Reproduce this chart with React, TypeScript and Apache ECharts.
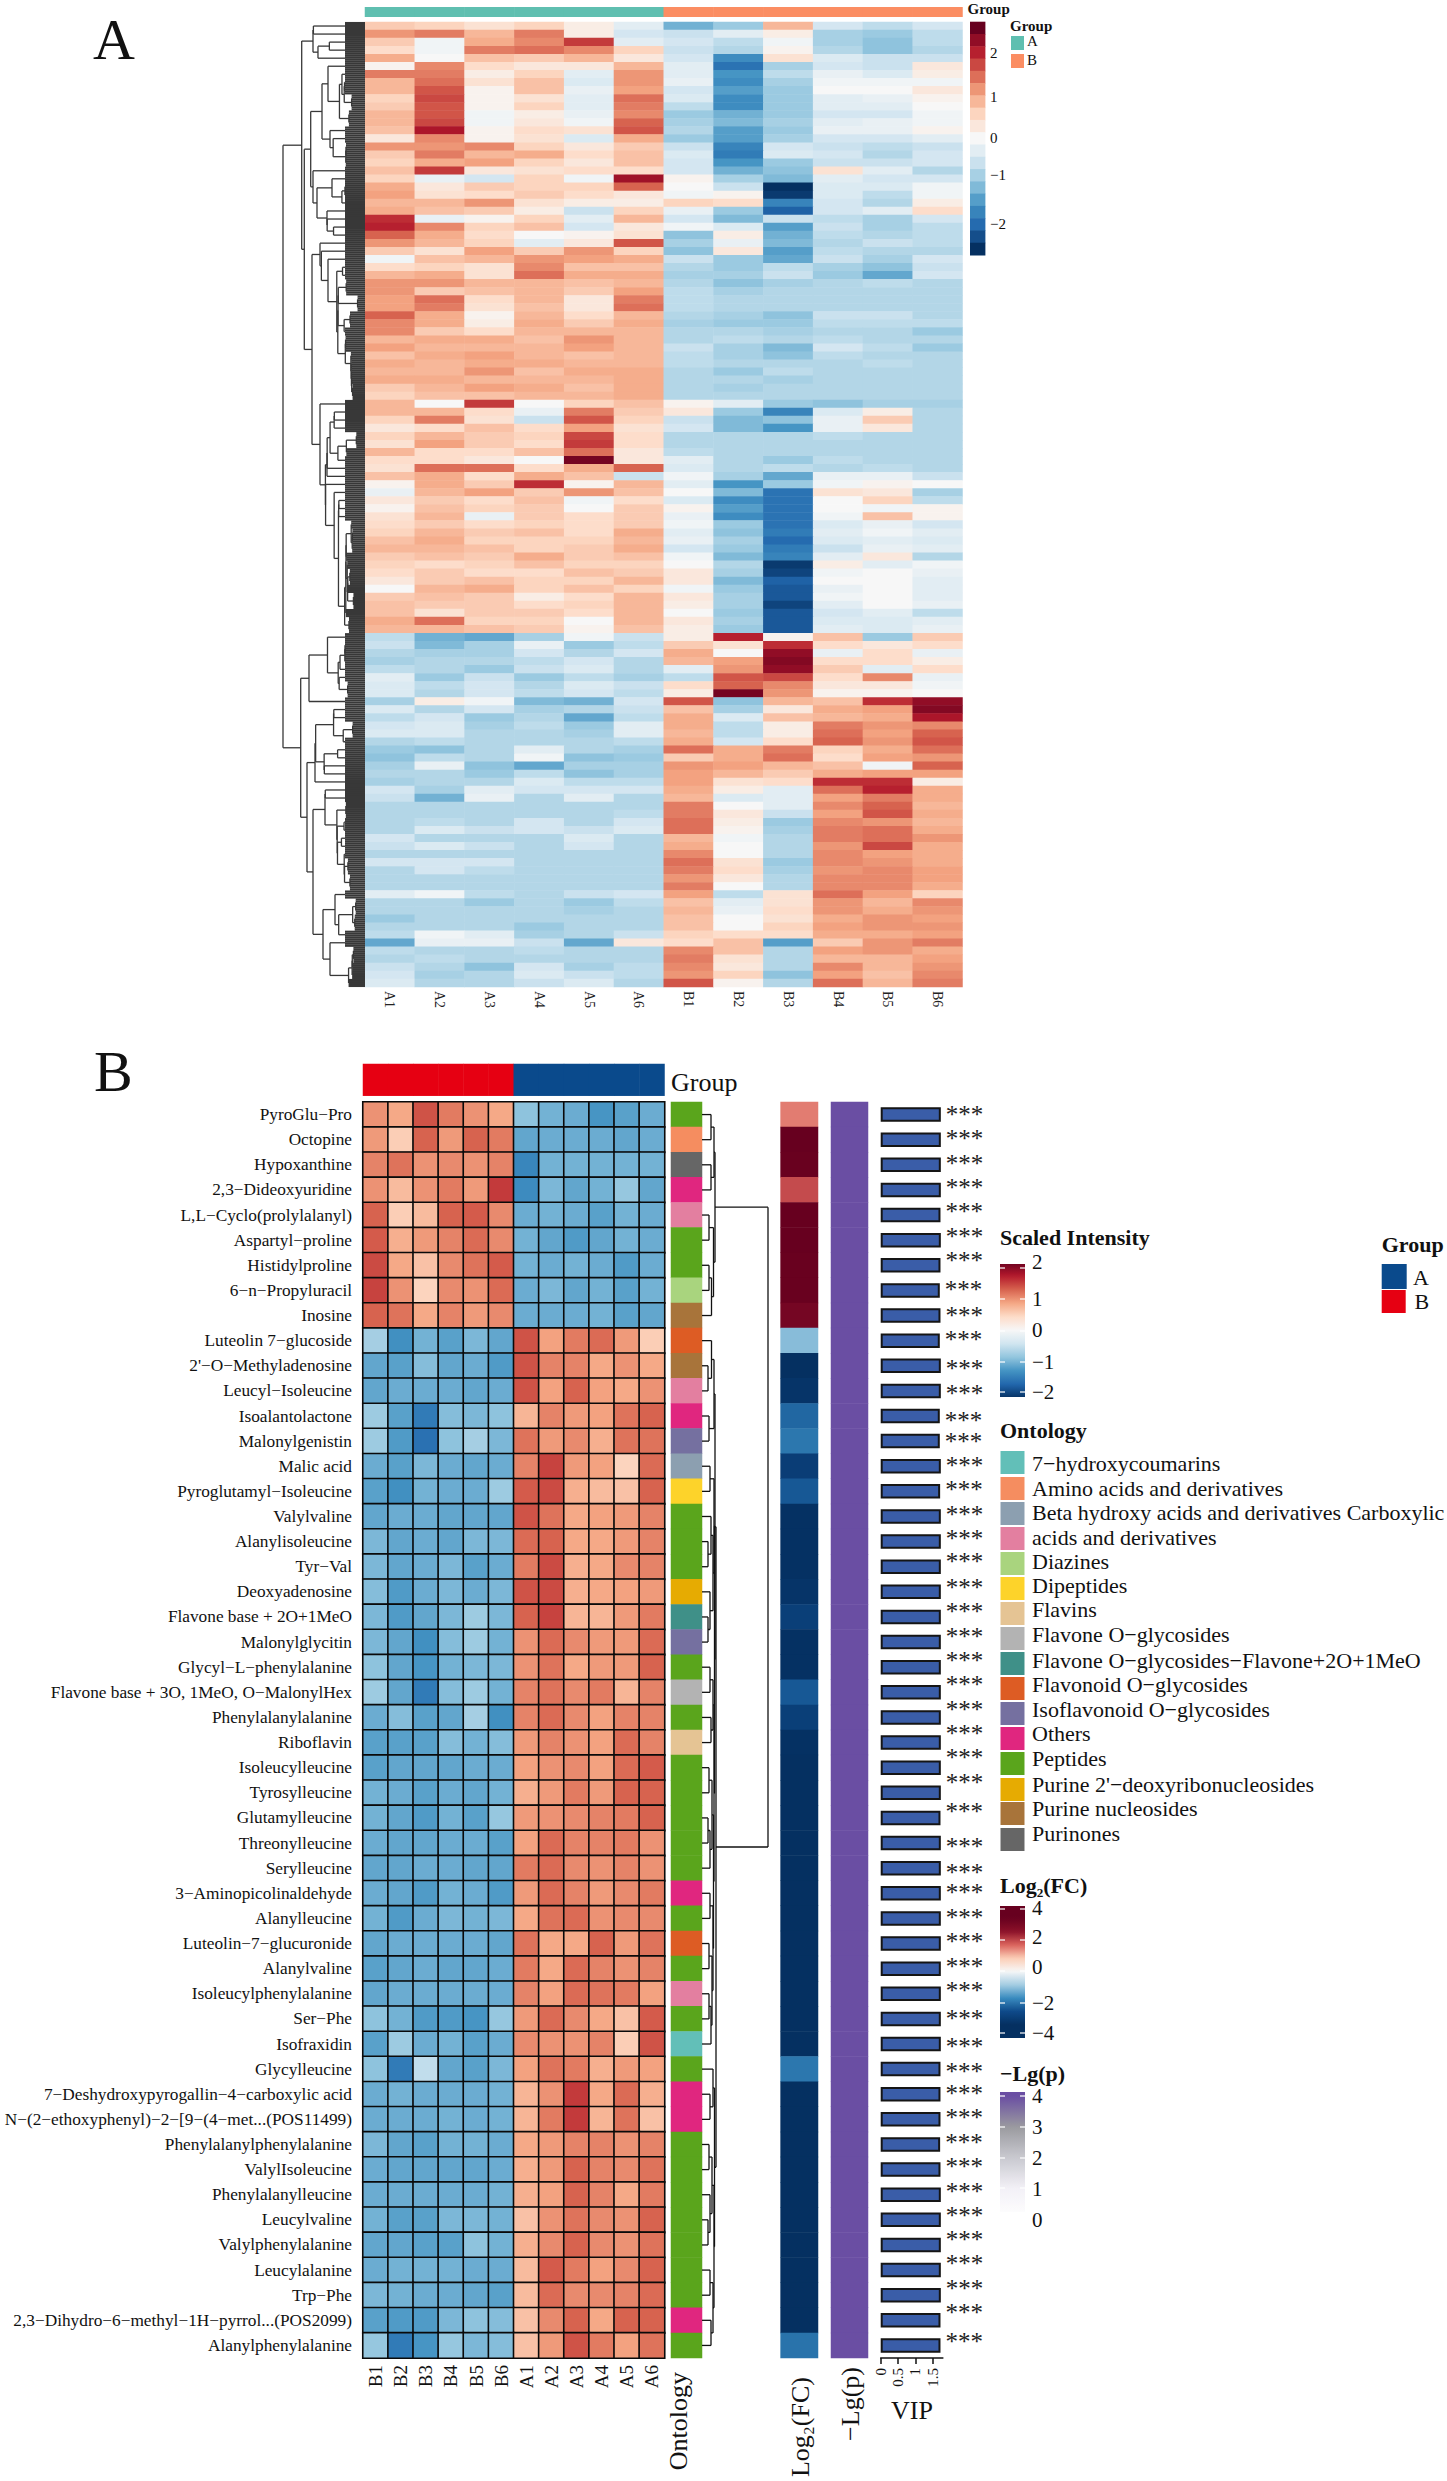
import React, { useEffect, useRef } from "react";
import * as echarts from "echarts";

const FONT = '"Liberation Serif"';

const sampleNamesA = ["A1","A2","A3","A4","A5","A6","B1","B2","B3","B4","B5","B6"];
const sampleNamesB = ["B1","B2","B3","B4","B5","B6","A1","A2","A3","A4","A5","A6"];
const rdbu = ["#053061","#2166ac","#4393c3","#92c5de","#d1e5f0","#f7f7f7","#fddbc7","#f4a582","#d6604d","#b2182b","#67001f"];

// Panel A, values read row band by row band, top to bottom; columns A1..A6, B1..B6
const heatTopA = [
[.7,.6,.4,.6,.2,-.3,-1.3,-1,.9,-.5,-.7,-.5],[1.2,1.4,.9,1.4,.2,-.5,-.6,-.3,.2,-.9,-1,-.7],
[.7,-.1,1,1.3,1.9,-.3,-.5,-.7,-.1,-.9,-1.1,-.7],[.5,-.1,1.4,1.5,1.3,.6,-.6,-.8,.1,-.8,-1.1,-.8],
[1,0,.8,.7,.9,.3,-.5,-1.7,.4,-.4,-.6,-.6],[.1,1.3,.5,.3,.3,.9,-.3,-2,-.9,-.5,-.6,.3],
[1.4,1.4,.2,.6,-.3,1.2,-.3,-1.6,-.7,-.2,-.4,.2],[.9,1.5,.4,.8,-.4,1.2,-.2,-1.7,-.9,-.1,-.1,-.1],
[.9,1.7,.1,.8,-.2,1.1,-.5,-1.5,-1,0,0,.3],[.6,1.8,.1,.4,-.3,1.5,-.4,-1.7,-1,-.3,-.2,.1],
[.7,1.7,.1,.6,-.3,1.4,-.7,-1.7,-1,-.3,-.3,0],[.9,1.7,-.1,.2,-.2,1.3,-1,-1.3,-1,-.5,-.5,-.1],
[.9,1.8,-.1,.3,-.1,1.6,-.9,-1.2,-.9,-.3,-.2,-.1],[.8,2.2,.1,.5,.4,1.7,-.8,-1.5,-1,-.2,-.2,.1],
[.3,1.3,.1,.4,-.4,1,-1,-1.5,-.9,-.5,-.5,-.3],[1.2,1.2,1.3,.6,.3,.7,-.6,-1.8,-.5,-.6,-.7,-.6],
[.7,1.4,.9,1,.5,.8,-.4,-1.9,-.4,-.5,-.8,-.5],[.6,1,1.1,.6,.3,.8,-.5,-1.6,-1,-.6,-.6,-.5],
[.8,1.9,.3,.4,.5,.5,-.5,-1.3,-1.1,.4,-.3,-.8],[.6,-.2,-.5,.6,-.1,2.3,.1,-.9,-1.2,-.3,-.5,-.5],
[1,.3,.7,.6,.6,1.6,0,-.6,-2.7,-.4,-.4,-.1],[1.1,.4,.5,.7,.5,.3,-.1,.1,-2.6,-.4,-.7,-.1],
[.9,.9,1.2,.4,.2,.2,.6,.5,-1.8,-.5,-.8,.2],[1,.8,.7,.2,-.6,.6,-.2,-1,-2.2,-.5,-.3,.5],
[2,-.2,.1,.6,-.3,.9,-.5,-1.2,-.6,-.7,-.9,-.5],[2.1,1.3,.6,.8,-.5,.3,-.1,-.4,-1.5,-.6,-.9,-.7],
];
const heatMidA = [
[1.6,1,.5,0,.1,.4,-1.1,.2,-1.3,-.7,-.8,-.7],[1.2,.9,.6,-.3,.3,1.7,-.9,-.2,-1.2,-.8,-.6,-.7],
[.7,.4,1.1,.7,1.2,.6,-1.1,.3,-1.5,-.7,-.8,-.8],[-.1,.8,.9,1.2,1.1,1,-.6,-1,-1.4,-.6,-.9,-.5],
[.5,.6,.4,1.3,.8,.8,-.8,-1,-.7,-.9,-1.1,-.6],[.9,1,.4,1.5,1,1,-.9,-.9,-.6,-1,-1.4,-.5],
[1.2,1.2,.9,.9,.8,.9,-.8,-1.1,-.9,-.8,-.7,-.8],[1.2,.7,.8,.9,.7,1.1,-.7,-.9,-.8,-.8,-.8,-.8],
[1.1,1.5,.5,.9,.3,1.4,-.7,-.8,-.8,-.8,-.8,-.8],[1.1,1.4,.4,.8,.3,1.5,-.7,-.8,-.8,-.8,-.8,-.8],
[1.6,1,.1,.9,.5,.9,-.8,-.9,-1.1,-.6,-.6,-.8],[1.3,1,.2,1,.7,1,-.9,-1,-1,-.7,-.7,-.7],
[1.3,.7,.5,.9,.9,.9,-.8,-.8,-.9,-.8,-.8,-1],[.9,1,1,.8,1.2,.9,-.8,-.7,-.8,-.7,-.8,-.8],
[1.1,.9,.9,.9,1.1,.9,-.6,-.9,-1.2,-.5,-.7,-1],[.8,1,1.1,.9,.8,.9,-.7,-.9,-1.1,-.7,-.8,-.8],
[1,.9,1,1,.9,.9,-.7,-.8,-.8,-.8,-.7,-.8],[.9,.9,1.2,.8,1,1,-.8,-1,-.7,-.8,-.8,-.8],
[1,1,.9,.9,.9,1,-.8,-.8,-.9,-.8,-.8,-.8],[.7,.9,1.1,1,.8,1,-.8,-.9,-.8,-.8,-.8,-.8],
[.6,.8,.8,.9,.9,1,-.8,-.8,-.8,-.8,-.8,-.8],
];
const heatLowA = [
[.9,0,1.9,0,.6,.8,.1,-.3,-1,-1.1,-.9,-.9],[.9,.9,.5,-.2,1.4,.7,.3,-1,-1.8,-.4,.2,-.8],
[.6,1.4,.4,-.6,1.7,.6,-.6,-1.2,-1.1,-.2,.7,-.8],[.3,.5,.8,.5,1.1,.4,-.5,-1.2,-1.6,-.2,.3,-.8],
[.6,.9,.7,.6,1.8,.5,-.8,-.8,-.8,-.7,-.8,-.8],[.4,1.1,.7,.5,1.9,.5,-.8,-.8,-.8,-.8,-.8,-.8],
[.9,.5,.5,.8,1.5,.3,-.7,-.8,-.8,-.8,-.8,-.8],[.5,.5,.3,0,2.6,.3,-.3,-.8,-1,-.7,-.8,-.8],
[.4,1.5,1.5,.5,1,1.6,-.4,-.8,-.7,-.8,-.7,-.8],[.8,1,.5,1,.8,-.6,-.1,-.9,-1.4,-.2,-.2,-.6],
[.1,1,.7,2,.1,.9,-.3,-1.6,-1,-.1,.1,0],[-.2,.9,1.1,.7,1.2,.8,0,-1.2,-2,.4,.3,-.9],
[.3,.7,.5,.8,-.1,.5,-.4,-1.7,-2,0,.6,-.7],[.1,.8,.6,.7,0,.7,.1,-1.5,-2,0,-.1,.1],
[.4,.9,-.2,.7,.5,.7,-.2,-1.7,-2,-.1,.8,.1],[.5,.7,.5,.6,.5,.7,-.1,-1,-2,-.4,-.2,-.5],
[.6,.9,.7,.8,.5,1,-.3,-1.1,-1.9,-.3,-.1,-.3],[.8,1,.6,.6,.6,.9,-.2,-.9,-2.1,-.4,-.3,-.4],
[.9,.9,.8,.6,.7,1,-.5,-1,-1.9,-.6,-.2,-.3],[.7,.8,.7,1,.7,.8,-.1,-1.2,-1.8,-.3,.3,-.8],
[.6,.5,.6,.8,.6,.6,0,-.8,-2.6,.2,-.3,-.1],[.5,.7,.5,.5,.8,.7,.3,-.9,-2.5,-.1,0,-.2],
[.3,.7,.8,.6,.6,.9,.3,-1.2,-2.2,0,0,-.3],[0,.9,1,.6,.8,.6,-.1,-1,-2.3,-.2,0,-.3],
[.7,.8,.7,.2,.5,.9,.3,-.9,-2.3,-.1,0,-.3],[.8,.7,.7,.5,.6,.9,.2,-.9,-2.5,-.3,0,-.2],
[.8,.4,.7,.7,.5,.9,0,-1,-2.3,-.5,-.3,-.7],[1,1.5,.6,.6,0,.9,.3,-.9,-2.3,-.4,-.4,-.3],
[.9,.9,.8,.7,.1,.8,.2,-1,-2.3,-.3,-.4,-.2],
];
const heatSplitA = [
[-.7,-1.3,-1.4,-.9,-.1,-.6,.2,2.1,.1,.8,-1,.7],[-.6,-1.2,-.9,-.2,-1,-.7,.7,.4,2,.5,.3,.5],
[-.8,-.9,-.9,-.5,-.8,-.5,1,0,2.4,-.2,.5,-.2],[-.9,-.8,-.8,-.7,-.5,-.8,.9,1.1,2.5,.5,.5,.2],
[-.7,-.8,-1,-.6,-.4,-.8,-.3,1.2,2.4,.7,-.3,.5],[-.3,-1,-.6,-1,-.7,-.9,-.7,1.7,1.8,.5,1.3,-.2],
[-.4,-.7,-.5,-.8,-.4,-.6,.5,1.6,1.3,.3,.3,-.1],[-.4,-.8,-.5,-.7,-.5,-.7,.2,2.6,1.2,.1,.1,0],
];
const heatBottomA = [
[-.9,.2,-.1,-1.2,-1.3,-.5,1.7,-1.1,.9,.8,2,2.4],[-.4,-.8,-.5,-.9,-.8,-.6,.8,-.9,.3,1,1.1,2.5],
[-.7,-.5,-1,-.8,-1.4,-.7,1,-.4,.8,.9,1,2.2],[-.5,-.4,-.9,-.7,-1,-.3,1,-.7,.2,1.4,1.2,1.3],
[-.4,-.4,-.8,-.8,-.9,-.3,.9,-.7,.2,1.5,1.1,1.6],[-.8,-.7,-.8,-.8,-.8,-.7,1,-.5,.5,1.6,1.2,1.7],
[-1,-1.1,-.8,-.3,-.8,-.9,1.5,1,1.4,.6,1,1.5],[-1.1,-.7,-.8,-.1,-1.1,-1,.7,1,1.5,.5,1.1,1.2],
[-.9,-.2,-1.1,-1.4,-.9,-.9,1.2,1.1,.9,.8,-.1,1.6],[-.8,-.8,-1,-.7,-1.1,-.9,1.1,.9,.7,1,1.1,1.1],
[-.9,-.8,-.8,-.4,-.7,-.7,1.1,.4,.5,2,2,.2],[-.5,-.9,-.3,-.5,-.5,-.5,1,.2,-.3,1.5,2.1,1],
[-.6,-1.3,-.2,-.8,-.3,-.8,.9,-.4,-.3,1.1,1.4,1],[-.8,-.8,-.8,-.8,-.8,-.8,1.4,0,-.3,1.3,1.6,.9],
[-.8,-.8,-.8,-.8,-.8,-.7,1.4,.3,-.6,1.1,1.7,1],[-.8,-.7,-.8,-.5,-.8,-.5,1.5,.2,-1,1.3,1.2,.9],
[-.8,-.4,-.6,-.5,-.6,-.4,1.5,.1,-.9,1.4,1.5,1],[-.5,-.8,-.8,-.8,-.4,-.8,.9,-.1,-.8,1.4,1.5,1.2],
[-.6,-.4,-.6,-.8,-.5,-.8,1,0,-.8,1.2,1.8,1],[-.8,-.8,-.8,-.8,-.8,-.8,1.3,0,-.8,1.3,1.1,1],
[-.5,-.5,-.5,-.8,-.8,-.8,1.5,.4,-1,1.3,1.2,1],[-.8,-.5,-.7,-.8,-.8,-.8,1.4,.5,-.9,1.2,1.3,1.1],
[-.8,-.8,-.8,-.8,-.8,-.8,1.2,.3,-.8,1.3,1.3,1.1],[-.8,-.8,-.8,-.8,-.8,-.8,1.4,0,-.8,1.3,1.3,1],
[-.3,-.1,-.7,-.8,-.6,-.5,1.1,-.7,.4,1.5,1.1,.6],[-.8,-.8,-1,-.8,-1,-.7,.8,-.3,.4,1.2,.9,1.3],
[-.8,-.8,-.8,-.8,-.9,-.8,.9,-.2,.5,1.2,1,1.2],[-1,-.8,-.8,-.8,-.8,-.8,.8,0,.4,1,1.2,1.1],
[-.8,-.8,-.8,-1,-.8,-.8,.8,0,.6,1.1,1.2,1.2],[-.7,-.1,-.3,-.9,-.8,-.6,.6,.5,.5,1,1,1.1],
[-1.4,-.2,-.2,-.6,-1.4,.3,.5,.8,-1.5,.7,1.2,1.4],[-.7,-.8,-.8,-.7,-.8,-.8,1.3,.8,-.8,1.1,1.2,1],
[-.8,-.7,-.8,-.8,-.8,-.8,1.4,.4,-.8,.9,.9,1.1],[-.6,-.8,-1.1,-.5,-.9,-.7,1.3,.3,-.8,1.3,.9,1.2],
[-.5,-.9,-.8,-.4,-.6,-.7,1.2,.6,-1.1,1.1,.8,1.3],[-.4,-.8,-.8,-.6,-.4,-.8,1.7,.1,-.8,1.5,.9,1.4],
];
const rowsA = [...heatTopA, ...heatMidA, ...heatLowA, ...heatSplitA, ...heatBottomA];

// upper levels of the row dendrogram of panel A: node(height, left, right), span(firstRow, lastRow, height)
const node = (h: number, l: any, r: any) => ({ h, l, r });
const span = (from: number, to: number, h: number) => ({ from, to, h });
const treeUpperA = node(63.3, span(0, 4, 52),
  node(60.7,
    node(54.3,
      node(43, span(5, 12, 37), span(13, 17, 35)),
      node(52, span(18, 18, 0), node(48, span(19, 22, 33), span(23, 26, 38)))),
    node(53, span(27, 46, 45), span(47, 75, 45))));
const treeLowerA = node(64.3, span(76, 84, 56),
  node(58, span(85, 94, 50),
    node(52, span(95, 107, 40),
      node(42, span(108, 113, 30), span(114, 119, 35)))));
const treeA = node(82, treeUpperA, treeLowerA);

// Panel B
const metabolites = ["PyroGlu−Pro","Octopine","Hypoxanthine","2,3−Dideoxyuridine","L,L−Cyclo(prolylalanyl)","Aspartyl−proline","Histidylproline","6−n−Propyluracil","Inosine","Luteolin 7−glucoside","2'−O−Methyladenosine","Leucyl−Isoleucine","Isoalantolactone","Malonylgenistin","Malic acid","Pyroglutamyl−Isoleucine","Valylvaline","Alanylisoleucine","Tyr−Val","Deoxyadenosine","Flavone base + 2O+1MeO","Malonylglycitin","Glycyl−L−phenylalanine","Flavone base + 3O, 1MeO, O−MalonylHex","Phenylalanylalanine","Riboflavin","Isoleucylleucine","Tyrosylleucine","Glutamylleucine","Threonylleucine","Serylleucine","3−Aminopicolinaldehyde","Alanylleucine","Luteolin−7−glucuronide","Alanylvaline","Isoleucylphenylalanine","Ser−Phe","Isofraxidin","Glycylleucine","7−Deshydroxypyrogallin−4−carboxylic acid","N−(2−ethoxyphenyl)−2−[9−(4−met...(POS11499)","Phenylalanylphenylalanine","ValylIsoleucine","Phenylalanylleucine","Leucylvaline","Valylphenylalanine","Leucylalanine","Trp−Phe","2,3−Dihydro−6−methyl−1H−pyrrol...(POS2099)","Alanylphenylalanine"];
const scaledIntensity = [
[1,.85,1.4,1.15,1,.85,-.9,-1.05,-1.1,-1.3,-1.2,-1.1],[.95,.55,1.3,.95,1.3,1.15,-1.15,-1.1,-1.1,-1.1,-1.15,-1.1],
[1.1,1.2,1,1.05,1,1.1,-1.45,-1.05,-1.05,-1.05,-1.05,-1.05],[1,.7,1,1.15,.95,1.55,-1.4,-1,-1.15,-1.05,-.85,-1.15],
[1.3,.55,.7,1.3,1.35,1.05,-1.1,-1.05,-1.1,-1.2,-1.05,-1.1],[1.35,.8,.95,1.1,1.25,1.05,-1.05,-1.15,-1.25,-1.15,-1.05,-1.1],
[1.45,.85,.65,1.05,1.2,1.35,-1.05,-1.1,-1.05,-1.1,-1.25,-1.1],[1.5,1,.5,1.05,1,1.25,-1.1,-1,-1.15,-1.05,-1.2,-1.05],
[1.3,1.2,.85,1.1,.95,1.05,-1.1,-1.1,-1.1,-1.05,-1.2,-1.15],[-.75,-1.35,-1.05,-1.2,-1,-1.15,1.4,.9,1.15,1.25,.95,.55],
[-1.15,-1.2,-.95,-1.15,-1.1,-1.25,1.4,1.1,1.1,.85,1,.85],[-1.15,-1.1,-1.1,-1.1,-1.15,-1.1,1.4,.9,1.3,.9,.85,1],
[-.8,-1.2,-1.55,-.95,-1,-.9,.75,1.1,.95,.9,1.2,1.3],[-.8,-1.25,-1.65,-.9,-.75,-1,1.2,.95,1.05,.8,1.2,1.2],
[-1.1,-1.2,-1,-1.1,-1.15,-1.1,1.1,1.5,.95,.9,.5,1.25],[-1.2,-1.35,-1.05,-1.1,-1.1,-.8,1.35,1.45,.8,.7,.65,1.3],
[-1.15,-1.1,-1.1,-1.15,-1.15,-1.15,1.4,1.2,.85,.9,.95,1.1],[-1,-1.15,-1.1,-1.15,-1,-1,1.25,1.3,.85,.85,.95,1.1],
[-1,-1.15,-1.1,-1,-1.2,-1.1,1.15,1.45,.8,.85,1.05,1.1],[-.95,-1.25,-1.1,-1,-1.1,-1,1.4,1.45,.8,.85,.9,.95],
[-1,-1.25,-1.15,-1,-.8,-1,1.3,1.5,.75,.75,.95,1.15],[-1,-1.15,-1.35,-.95,-.8,-1.05,1,1.25,1.05,.95,.95,1.25],
[-.9,-1.15,-1.3,-1.05,-1,-1,1,1.2,.85,.95,.95,1.3],[-.8,-1.15,-1.55,-.95,-.8,-1.05,1.1,1.2,1.05,1.15,.75,1.1],
[-1.1,-.95,-1.2,-1.15,-.75,-1.35,1.1,1.25,1.05,.9,1.1,1.1],[-1.2,-1.2,-1.2,-.95,-1.05,-.95,.95,1.1,1,.9,1.25,1.1],
[-1.2,-1.15,-1.15,-1.15,-1.1,-1.1,.9,1,1.05,.9,1.25,1.35],[-1.05,-1.1,-1.2,-1.1,-1.15,-1.05,.8,.95,1.15,.95,1.3,1.3],
[-1.05,-1.15,-1.25,-1.05,-1.2,-.85,.95,1,1.05,1.1,1.15,1.3],[-1.1,-1.15,-1.15,-1.1,-1.1,-1.2,.9,1.25,1.1,1.1,1.15,1],
[-1.15,-1.15,-1.1,-1.1,-1.15,-1.15,1.15,1.25,1.05,1,1.1,1],[-1.1,-1.15,-1.25,-1.05,-1.1,-1.25,.95,1.25,1.1,.95,1.05,1.15],
[-1.05,-1.25,-1.1,-1,-1.05,-1,.85,1.2,1.25,1,1.05,1.05],[-1.15,-1.1,-1.1,-1.1,-1.1,-1.15,1.2,.85,.85,1.3,.95,1.2],
[-1.2,-1.15,-1.1,-1.15,-1.15,-1.1,1.15,.85,1.25,1.1,1,1.1],[-1.15,-1.1,-1.1,-1.1,-1.1,-1.1,1.1,.9,1.25,1.2,1.15,.9],
[-.9,-1.05,-1.25,-1.25,-1.3,-.85,.95,1.25,1.05,.85,.65,1.35],[-1.2,-.8,-1.1,-1.05,-1.2,-1.1,1.05,1,1,1.1,.55,1.4],
[-.9,-1.55,-.55,-1.15,-1.2,-1,.9,1.2,1.15,.8,.95,.9],[-1.1,-1.05,-1.1,-1.1,-1.1,-1.05,.75,1,1.55,.85,1.25,.8],
[-1.1,-1.1,-1.1,-1.05,-1.1,-1.05,.75,1.15,1.55,.75,1.2,.65],[-1,-1.15,-1.2,-1.05,-1.05,-1.1,.85,.95,1.1,1.1,1,1.1],
[-1.1,-1.15,-1.15,-1.15,-1.15,-1.1,.8,.95,1.3,1.1,1.05,1.2],[-1.1,-1.1,-1.1,-1.1,-1.1,-1.05,.8,.9,1.3,1.1,.85,1.15],
[-1.05,-1.2,-1.2,-1,-1,-1.05,.65,1,1.2,1.05,1,1.3],[-1.15,-1.15,-1.2,-1.2,-.9,-1.05,.8,1.05,1.3,1.05,1,1.2],
[-1.1,-1.05,-1.05,-1.05,-1.1,-1.1,.7,1.35,1.15,.9,1.05,1.3],[-1,-1.05,-1.1,-1.1,-1.15,-1.2,.7,1.25,1.05,1.05,1.1,1.25],
[-1.2,-1.25,-1.25,-1,-.9,-.95,.65,1.05,1.3,.85,1.3,1.3],[-.85,-1.55,-1.3,-.85,-1,-.95,.65,.95,1.4,1.15,.9,1.2],
];
const ontologyNames = ["7−hydroxycoumarins","Amino acids and derivatives","Beta hydroxy acids and derivatives Carboxylic","acids and derivatives","Diazines","Dipeptides","Flavins","Flavone O−glycosides","Flavone O−glycosides−Flavone+2O+1MeO","Flavonoid O−glycosides","Isoflavonoid O−glycosides","Others","Peptides","Purine 2'−deoxyribonucleosides","Purine nucleosides","Purinones"];
const ontologyColors = ["#62bfb8","#f58d60","#8c9fb0","#e37fa0","#a9d47e","#fdd32a","#e5c494","#b3b3b3","#3f9088","#dd5c24","#7570a0","#e0267f","#5aa51c","#e6ab02","#a8743a","#666666"];
// index into ontologyNames for each metabolite
const ontologyOfRow = [12,1,15,11,3,12,12,4,14,9,14,3,11,10,2,5,12,12,12,13,8,10,12,7,12,6,12,12,12,12,12,11,12,9,12,3,12,0,12,11,11,12,12,12,12,12,12,12,11,12];
const log2FC = [1.5,3.6,3.4,1.95,3.6,3.5,3.4,3.4,3.1,-1.1,-3.6,-3.3,-2.2,-2,-3,-2.4,-3.4,-3.4,-3.4,-3.3,-2.95,-3.4,-3.4,-2.4,-2.95,-3.4,-3.5,-3.5,-3.5,-3.5,-3.5,-3.5,-3.5,-3.5,-3.5,-3.5,-3.5,-3.5,-2,-3.5,-3.5,-3.5,-3.5,-3.5,-3.5,-3.5,-3.5,-3.5,-3.5,-2.05];
const minusLgP = [4,4,4,4,4,4,4,4,4,4,4,4,4,4,4,4,4,4,4,4,4,4,4,4,4,4,4,4,4,4,4,4,4,4,4,4,4,4,4,4,4,4,4,4,4,4,4,4,4,4];
const vip = [1.74,1.74,1.74,1.74,1.73,1.74,1.73,1.71,1.73,1.71,1.74,1.74,1.71,1.71,1.74,1.72,1.74,1.74,1.74,1.74,1.74,1.74,1.74,1.74,1.74,1.74,1.74,1.74,1.73,1.74,1.74,1.74,1.74,1.74,1.74,1.74,1.74,1.74,1.73,1.73,1.73,1.72,1.73,1.74,1.74,1.74,1.74,1.74,1.73,1.73];
// vertical nudges of the *** marks, as drawn in the figure
const starNudge = [0,-1,-1.5,-2.4,-3.5,-3.6,-4.7,-.8,0,-1,2.8,2.7,4.6,0,-1,-1.8,-2.2,-3,-5.5,-4.6,-5.4,-5.8,-6.6,-7.8,-8.2,-9.3,-10,-10.5,-6.7,3.2,4.4,-.7,-1,-2,-2.3,-3,0,2.6,2.5,-.6,-1.8,-2.2,-3,-3.3,-4.3,-5.3,-6.4,-6.5,-7.6,-3.8];

// dendrogram of panel B, [height, left, right]; leaves are row numbers
const treeTopB: any = [13,[12,[9,0,1],[9,2,3]],[11.5,[7,4,5],[9.5,[7,6,7],8]]];
const treeMidB: any = [13,[12,[9.5,9,[6,10,11]],[7,12,13]],
  [12.5,[12,[8,14,15],[11,[9,16,[6,17,18]],[8,19,[6,20,21]]]],[12,[11,[8,22,23],[9,24,25]],[11.5,[10,[7,26,27],[8,[6,28,29],30]],[11,[8,31,32],[10,[7,33,34],[9,[7,35,36],37]]]]]]];
const treeEndB: any = [12.5,[11,38,[8,39,40]],[12,[10,[7,41,42],[8,43,[6,44,45]]],[11,[8,46,47],[9,48,49]]]];
const treeB: any = [66,treeTopB,[14,treeMidB,treeEndB]];

const hex = (c: string) => [1, 3, 5].map((i) => parseInt(c.slice(i, i + 2), 16));
function ramp(colors: string[], t: number) {
  const p = Math.min(Math.max(t, 0), 1) * (colors.length - 1);
  const i = Math.min(Math.floor(p), colors.length - 2);
  const a = hex(colors[i]), b = hex(colors[i + 1]);
  const m = a.map((v, k) => Math.round(v + (b[k] - v) * (p - i)));
  return `rgb(${m[0]},${m[1]},${m[2]})`;
}

// lower levels inside each span are merged from the heat values themselves
type T = { x: number; y: number; leaf?: number; kids?: T[] };
function buildSpan(rows: number[][], from: number, to: number, top: number): T {
  if (from === to) return { x: 0, y: from + 0.5, leaf: from };
  type C = { y: number; d: number; n: number; m: number[]; leaf?: number; kids?: C[] };
  const cl: C[] = [];
  for (let i = from; i <= to; i++) cl.push({ y: i + 0.5, d: 0, n: 1, m: rows[i].slice(), leaf: i });
  const dist = (a: C, b: C) => Math.sqrt(a.m.reduce((s, v, k) => s + (v - b.m[k]) ** 2, 0));
  while (cl.length > 1) {
    let best = 0, bd = Infinity;
    for (let i = 0; i < cl.length - 1; i++) {
      const d = dist(cl[i], cl[i + 1]);
      if (d < bd) { bd = d; best = i; }
    }
    const a = cl[best], b = cl[best + 1], n = a.n + b.n;
    cl.splice(best, 2, { y: (a.y + b.y) / 2, d: Math.max(bd, a.d, b.d) + 0.01, n, m: a.m.map((v, k) => (v * a.n + b.m[k] * b.n) / n), kids: [a, b] });
  }
  const dmax = cl[0].d;
  const conv = (c: C): T => c.leaf !== undefined ? { x: 0, y: c.y, leaf: c.leaf } : { x: top * Math.pow(c.d / dmax, 0.85), y: c.y, kids: c.kids!.map(conv) };
  return conv(cl[0]);
}
function buildA(n: any): T {
  if (n.from !== undefined) return buildSpan(rowsA, n.from, n.to, n.h);
  const l = buildA(n.l), r = buildA(n.r);
  return { x: n.h, y: (l.y + r.y) / 2, kids: [l, r] };
}
function dendroA(tree: any) {
  const segs: number[][] = [];
  const walk = (c: T) => {
    if (!c.kids) return;
    segs.push([c.x, c.kids[0].y, c.x, c.kids[1].y, 1.3]);
    for (const k of c.kids) {
      if (k.leaf !== undefined) {
        const comb = Math.max(Math.min(c.x, 20), 6);
        for (let s = 0; s < 4; s++) segs.push([comb, k.leaf + (s + 0.5) / 4, 0, k.leaf + (s + 0.5) / 4, 2.1]);
        if (c.x > comb) segs.push([c.x, k.y, comb, k.y, 1.3]);
      } else {
        segs.push([c.x, k.y, k.x, k.y, 1.3]);
        walk(k);
      }
    }
  };
  walk(buildA(tree));
  return segs;
}

function dendroB(tree: any) {
  const segs: number[][] = [];
  const walk = (t: any): [number, number] => {
    if (typeof t === "number") return [0, t + 0.5];
    const a = walk(t[1]), b = walk(t[2]);
    segs.push([t[0], a[1], t[0], b[1], 1.3], [t[0], a[1], a[0], a[1], 1.3], [t[0], b[1], b[0], b[1], 1.3]);
    return [t[0], (a[1] + b[1]) / 2];
  };
  walk(tree);
  return segs;
}

const blank = { show: false };
const hiddenCat = (data: any[], gridIndex: number, inverse = false) => ({ type: "category", data, gridIndex, inverse, axisLine: blank, axisTick: blank, axisLabel: blank, splitLine: blank });
const lineRender = (stroke: string) => (_: any, api: any) => {
  const a = api.coord([api.value(0), api.value(1)]);
  const b = api.coord([api.value(2), api.value(3)]);
  return { type: "line", shape: { x1: a[0], y1: a[1], x2: b[0], y2: b[1] }, style: { stroke, lineWidth: api.value(4) } };
};
const txt = (text: string, x: number, y: number, size: number, extra: any = {}, styleExtra: any = {}) => ({
  type: "text", x, y, silent: true, ...extra,
  style: { text, fontFamily: FONT, fontSize: size, fill: "#111", align: "left", verticalAlign: "middle", ...styleExtra },
});
const bold = { fontWeight: "bold" };

function colorBar(x: number, top: number, bottom: number, w: number, colors: string[], vTop: number, vBottom: number, vMin: number, vMax: number, ticks: number[][], labels: [string, number][]) {
  const stops = [];
  for (let i = 0; i <= 40; i++) {
    const v = vTop + ((vBottom - vTop) * i) / 40;
    stops.push({ offset: i / 40, color: ramp(colors, (v - vMin) / (vMax - vMin)) });
  }
  const out: any[] = [{ type: "rect", silent: true, shape: { x, y: top, width: w, height: bottom - top }, style: { fill: new echarts.graphic.LinearGradient(0, 0, 0, 1, stops) } }];
  for (const [y] of ticks) {
    out.push({ type: "line", silent: true, shape: { x1: x, y1: y, x2: x + 5, y2: y }, style: { stroke: "#fff", lineWidth: 1.2 } });
    out.push({ type: "line", silent: true, shape: { x1: x + w - 5, y1: y, x2: x + w, y2: y }, style: { stroke: "#fff", lineWidth: 1.2 } });
  }
  for (const [t, y] of labels) out.push(txt(t, 1032, y, 21));
  return out;
}

export default function App() {
  const ref = useRef<HTMLDivElement>(null);
  useEffect(() => {
    const chart = echarts.init(ref.current!, undefined, { renderer: "svg" });
    const grid = (left: number, right: number, top: number, bottom: number) => ({ left, top, width: right - left, height: bottom - top, containLabel: false });
    const Atop = 22, Abot = 987, Btop = 1102, Bbot = 2358;
    const rowIdxA = rowsA.map((_, i) => i);
    const heatA: number[][] = [];
    rowsA.forEach((r, y) => r.forEach((v, x) => heatA.push([x, y, v])));
    const heatB: number[][] = [];
    scaledIntensity.forEach((r, y) => r.forEach((v, x) => heatB.push([x, y, v])));

    const labelAxisA = { type: "category", data: sampleNamesA, gridIndex: 1, axisLine: blank, axisTick: blank, axisLabel: { rotate: -90, fontFamily: FONT, fontSize: 14, color: "#222", margin: 4, interval: 0 } };
    const labelAxisB = { type: "category", data: sampleNamesB, gridIndex: 4, axisLine: blank, axisTick: blank, axisLabel: { rotate: 90, fontFamily: FONT, fontSize: 19, color: "#111", margin: 7, interval: 0 } };

    const graphics: any[] = [
      txt("A", 93, 39, 58),
      txt("B", 94, 1071, 58),
      txt("Group", 967.5, 9, 15, {}, bold),
      txt("Group", 1010, 26, 15, {}, bold),
      { type: "rect", silent: true, shape: { x: 1011, y: 36, width: 13, height: 14 }, style: { fill: "#5fbfb0" } },
      { type: "rect", silent: true, shape: { x: 1011, y: 54, width: 13, height: 14 }, style: { fill: "#fb8d62" } },
      txt("A", 1027, 41, 15),
      txt("B", 1027, 60, 15),
      txt("2", 990, 53, 15), txt("1", 990, 97, 15), txt("0", 990, 138, 15), txt("−1", 990, 175, 15), txt("−2", 990, 224, 15),
      txt("Group", 671, 1082, 26),
      txt("Ontology", 678, 2372, 26, { rotation: Math.PI / 2 }, { align: "right" }),
      txt("Log₂(FC)", 800, 2377, 26, { rotation: Math.PI / 2 }, { align: "right" }),
      txt("−Lg(p)", 850.5, 2367, 26, { rotation: Math.PI / 2 }, { align: "right" }),
      txt("VIP", 912, 2410, 26, {}, { align: "center" }),
      txt("Scaled Intensity", 1000, 1237, 22, {}, bold),
      txt("Ontology", 1000, 1430, 22, {}, bold),
      txt("Log₂(FC)", 1000, 1885, 22, {}, bold),
      txt("−Lg(p)", 1000, 2073, 22, {}, bold),
      txt("Group", 1381.7, 1244, 22, {}, bold),
      { type: "rect", silent: true, shape: { x: 1381.7, y: 1264, width: 25, height: 25 }, style: { fill: "#0a4a8c" } },
      { type: "rect", silent: true, shape: { x: 1381.7, y: 1290, width: 24, height: 23 }, style: { fill: "#e60012" } },
      txt("A", 1413, 1277, 22),
      txt("B", 1414.5, 1301, 22),
    ];
    // discrete colour bar of panel A
    const bands = 19;
    for (let i = 0; i < bands; i++) {
      graphics.push({ type: "rect", silent: true, shape: { x: 970, y: 21.7 + (i * 233.3) / bands, width: 15.4, height: 233.3 / bands + 0.5 }, style: { fill: ramp(rdbu, 1 - i / (bands - 1)) } });
    }
    graphics.push(...colorBar(1000, 1264, 1397, 25, rdbu, 2.13, -2.16, -2.2, 2.2,
      [[1268], [1299], [1331], [1362], [1392]], [["2", 1262], ["1", 1299], ["0", 1330], ["−1", 1362], ["−2", 1392]]));
    const fcColors = ["#053061","#053061","#0e4a8a","#3a8cc0","#a6cee3","#f7f7f7","#fbccb4","#d9605a","#8a1028","#67001f","#67001f"];
    graphics.push(...colorBar(1000, 1906, 2038, 25, fcColors, 4.2, -4.3, -4.3, 4.3,
      [[1909], [1940], [1971], [2003], [2033]], [["4", 1908], ["2", 1937], ["0", 1967], ["−2", 2003], ["−4", 2033]]));
    const lgColors = ["#ffffff","#f3f1f7","#c9c9d0","#9a9a9f","#6a4ea3"];
    graphics.push(...colorBar(1000, 2092, 2212, 25, lgColors, 4.13, 0.25, 0, 4,
      [[2096], [2127], [2158], [2188]], [["4", 2096], ["3", 2127], ["2", 2158], ["1", 2189], ["0", 2220]]));
    // ontology legend
    const swatchTops = [1451,1477,1502,1527,1552,1577,1602,1627,1652,1677,1702,1727,1752,1778,1802,1828];
    const textYs = [1463,1488,1512,1537,1561,1585,1609,1634,1660,1684,1709,1733,1758,1784,1808,1833];
    ontologyNames.forEach((n, i) => {
      graphics.push({ type: "rect", silent: true, shape: { x: 1000.5, y: swatchTops[i], width: 24, height: 23 }, style: { fill: ontologyColors[i] } });
      graphics.push(txt(n, 1032, textYs[i], 22));
    });

    chart.setOption({
      animation: false,
      backgroundColor: "#fff",
      grid: [
        grid(365, 962.5, 7.3, 16.7), grid(365, 962.5, Atop, Abot), grid(283, 365, Atop, Abot),
        grid(363, 664.5, 1064, 1095.7), grid(363, 664.5, Btop, Bbot), grid(671, 702, Btop, Bbot), grid(702, 768, Btop, Bbot),
        grid(780.6, 818, Btop, Bbot), grid(831, 868, Btop, Bbot), grid(880.7, 942.9, Btop, Bbot),
      ],
      xAxis: [
        hiddenCat(sampleNamesA, 0), labelAxisA,
        { type: "value", gridIndex: 2, min: 0, max: 82, inverse: true, show: false },
        hiddenCat(sampleNamesB, 3), labelAxisB,
        hiddenCat(["Ontology"], 5),
        { type: "value", gridIndex: 6, min: 0, max: 66, show: false },
        hiddenCat(["Log2(FC)"], 7), hiddenCat(["-Lg(p)"], 8),
        { type: "value", gridIndex: 9, min: 0, max: 1.8, interval: 0.5, splitLine: blank,
          axisLine: { show: true, onZero: false, lineStyle: { color: "#111", width: 1.5 } },
          axisTick: { show: true, length: 6, lineStyle: { color: "#111", width: 1.5 } },
          axisLabel: { rotate: 90, fontFamily: FONT, fontSize: 15, color: "#111", margin: 10, showMaxLabel: false } },
      ],
      yAxis: [
        hiddenCat(["Group"], 0), hiddenCat(rowIdxA, 1, true),
        { type: "value", gridIndex: 2, min: 0, max: rowsA.length, inverse: true, show: false },
        hiddenCat(["Group"], 3),
        { type: "category", data: metabolites, gridIndex: 4, inverse: true, axisLine: blank, axisTick: blank,
          axisLabel: { fontFamily: FONT, fontSize: 17.3, color: "#111", margin: 11, interval: 0 } },
        hiddenCat(metabolites, 5, true),
        { type: "value", gridIndex: 6, min: 0, max: 50, inverse: true, show: false },
        hiddenCat(metabolites, 7, true), hiddenCat(metabolites, 8, true), hiddenCat(metabolites, 9, true),
      ],
      visualMap: [
        { type: "piecewise", show: false, dimension: 2, seriesIndex: 0, pieces: [{ value: 0, color: "#5fbfb0" }, { value: 1, color: "#fb8d62" }] },
        { type: "continuous", show: false, dimension: 2, seriesIndex: 1, min: -2.7, max: 2.7, inRange: { color: rdbu } },
        { type: "piecewise", show: false, dimension: 2, seriesIndex: 3, pieces: [{ value: 0, color: "#e60012" }, { value: 1, color: "#0a4a8c" }] },
        { type: "continuous", show: false, dimension: 2, seriesIndex: 4, min: -2.2, max: 2.2, inRange: { color: rdbu } },
        { type: "piecewise", show: false, dimension: 2, seriesIndex: 5, pieces: ontologyColors.map((color, value) => ({ value, color })) },
        { type: "continuous", show: false, dimension: 2, seriesIndex: 7, min: -4.3, max: 4.3, inRange: { color: fcColors } },
        { type: "continuous", show: false, dimension: 2, seriesIndex: 8, min: 0, max: 4, inRange: { color: lgColors } },
      ],
      series: [
        { type: "heatmap", xAxisIndex: 0, yAxisIndex: 0, data: sampleNamesA.map((_, i) => [i, 0, i < 6 ? 0 : 1]), progressive: 0 },
        { type: "heatmap", xAxisIndex: 1, yAxisIndex: 1, data: heatA, progressive: 0 },
        { type: "custom", xAxisIndex: 2, yAxisIndex: 2, data: dendroA(treeA), renderItem: lineRender("#383838"), silent: true, clip: false, encode: { x: [0, 2], y: [1, 3] } },
        { type: "heatmap", xAxisIndex: 3, yAxisIndex: 3, data: sampleNamesB.map((_, i) => [i, 0, i < 6 ? 0 : 1]), progressive: 0 },
        { type: "heatmap", xAxisIndex: 4, yAxisIndex: 4, data: heatB, progressive: 0, itemStyle: { borderColor: "#0a0a0a", borderWidth: 1.6 } },
        { type: "heatmap", xAxisIndex: 5, yAxisIndex: 5, data: ontologyOfRow.map((o, i) => [0, i, o]), progressive: 0 },
        { type: "custom", xAxisIndex: 6, yAxisIndex: 6, data: dendroB(treeB), renderItem: lineRender("#111"), silent: true, clip: false, encode: { x: [0, 2], y: [1, 3] } },
        { type: "heatmap", xAxisIndex: 7, yAxisIndex: 7, data: log2FC.map((v, i) => [0, i, v]), progressive: 0 },
        { type: "heatmap", xAxisIndex: 8, yAxisIndex: 8, data: minusLgP.map((v, i) => [0, i, v]), progressive: 0 },
        { type: "bar", xAxisIndex: 9, yAxisIndex: 9, barWidth: 14.5, itemStyle: { color: "#3a5da8", borderColor: "#151515", borderWidth: 2 },
          data: vip.map((value, i) => ({ value, label: { show: true, position: "right", distance: 5, formatter: "***", fontFamily: FONT, fontSize: 25, lineHeight: 14, color: "#222", offset: [0, starNudge[i]] } })) },
      ],
      graphic: { elements: graphics },
    });
    return () => chart.dispose();
  }, []);
  return <div ref={ref} style={{ position: "absolute", left: 0, top: 0, width: 1447, height: 2481 }} />;
}
